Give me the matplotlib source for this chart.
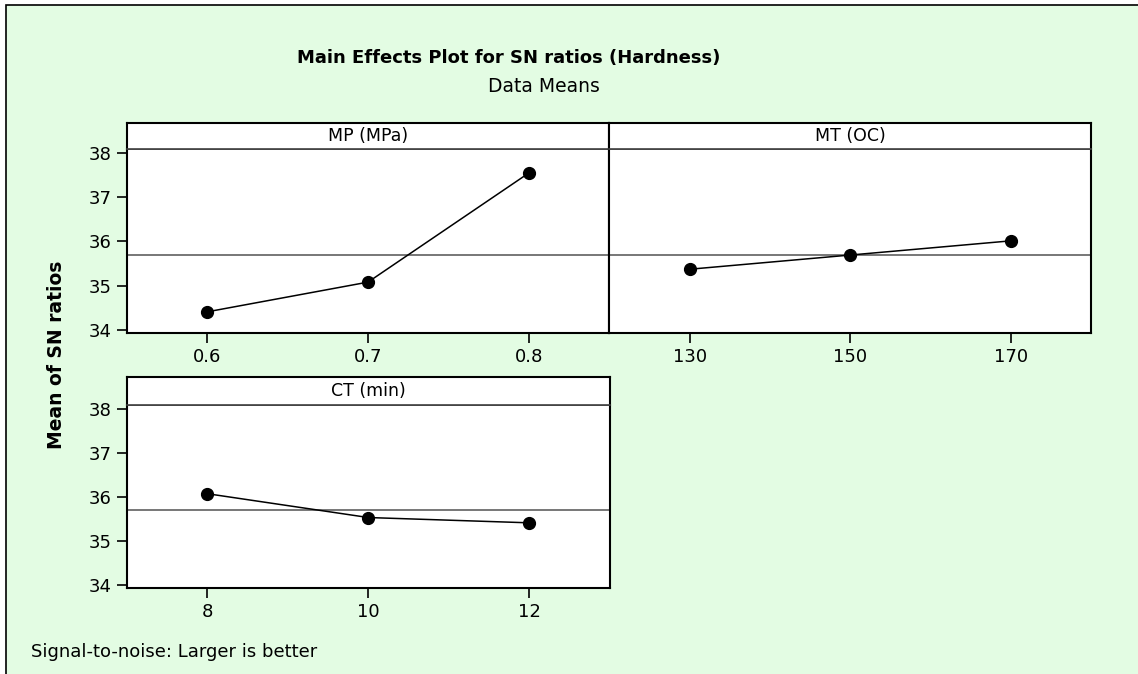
import matplotlib
matplotlib.use("Agg")
import matplotlib.pyplot as plt
from matplotlib.patches import Rectangle

plt.rcParams['font.family'] = ['DejaVu Sans']

# ---- data ----
mp_levels = [0.6, 0.7, 0.8]
mp_sn = [34.41, 35.08, 37.54]
mt_levels = [130, 150, 170]
mt_sn = [35.37, 35.69, 36.01]
ct_levels = [8, 10, 12]
ct_sn = [36.07, 35.53, 35.41]
overall_mean = 35.69
y_ticks = [34, 35, 36, 37, 38]
panel_titles = ["MP (MPa)", "MT (OC)", "CT (min)"]

W, H = 1138, 674
GREEN = '#E3FCE3'
fig = plt.figure(figsize=(W / 100, H / 100), dpi=100)
fig.patch.set_facecolor('white')

def box(x0, y0, x1, y1):
    return [x0 / W, 1 - y1 / H, (x1 - x0) / W, (y1 - y0) / H]

# green background with border (in a background axes)
bg = fig.add_axes([0, 0, 1, 1], zorder=-10)
bg.set_xlim(0, W)
bg.set_ylim(H, 0)
bg.axis('off')
bg.add_patch(Rectangle((6, 5), W + 20, H + 20, facecolor=GREEN,
                       edgecolor='black', linewidth=1.2))

def panel(x0, x1, ytop_strip, y_strip_bot, y_bot, levels, vals, xlim, title, show_yticks=True):
    ax = fig.add_axes(box(x0, y_strip_bot, x1, y_bot))
    ax.set_facecolor('white')
    ax.plot(levels, vals, color='black', lw=1.1, marker='o', ms=8.5,
            markerfacecolor='black', markeredgecolor='black', zorder=3,
            clip_on=False)
    ax.axhline(overall_mean, color='#606060', lw=1.2, zorder=2)
    ax.set_xlim(*xlim)
    ax.set_ylim(33.94, 38.08)
    ax.set_xticks(levels)
    ax.set_xticklabels([str(v) for v in levels])
    ax.set_yticks(y_ticks)
    if not show_yticks:
        ax.tick_params(axis='y', left=False, labelleft=False)
    ax.tick_params(axis='both', direction='out', length=7, width=1.2,
                   labelsize=13, colors='black', pad=4)
    for s in ax.spines.values():
        s.set_linewidth(1.5)
        s.set_color('black')
    ax.spines['top'].set_color('#404040')
    ax.spines['top'].set_linewidth(1.2)
    # strip
    sa = fig.add_axes(box(x0, ytop_strip, x1, y_strip_bot))
    sa.set_facecolor('white')
    sa.set_xticks([])
    sa.set_yticks([])
    for s in sa.spines.values():
        s.set_linewidth(1.5)
        s.set_color('black')
    sa.spines['bottom'].set_linewidth(1.2)
    sa.spines['bottom'].set_color('#404040')
    sa.text(0.5, 0.5, title, ha='center', va='center', fontsize=12.5,
            transform=sa.transAxes)
    return ax

panel(126.7, 609.3, 123.3, 149, 332.7, mp_levels, mp_sn, (0.55, 0.85), panel_titles[0])
panel(609.3, 1091, 123.3, 149, 332.7, mt_levels, mt_sn, (120, 180), panel_titles[1], show_yticks=False)
panel(126.7, 610, 376.7, 405, 587.7, ct_levels, ct_sn, (7, 13), panel_titles[2])

fig.text(509 / W, 1 - 58 / H, "Main Effects Plot for SN ratios (Hardness)",
         ha='center', va='center', fontsize=13, fontweight='bold')
fig.text(544 / W, 1 - 86 / H, "Data Means", ha='center', va='center', fontsize=13.5)
fig.text(57 / W, 1 - 355 / H, "Mean of SN ratios", ha='center', va='center',
         rotation=90, fontsize=13.5, fontweight='bold')
fig.text(31 / W, 1 - 652 / H, "Signal-to-noise: Larger is better", ha='left',
         va='center', fontsize=13)

fig.savefig("out.png", dpi=100, facecolor=fig.get_facecolor())
